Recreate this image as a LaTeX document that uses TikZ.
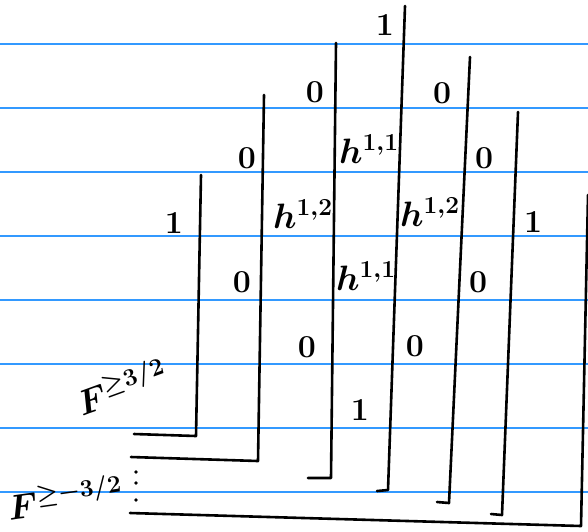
\documentclass[tikz,border=0pt]{standalone}
\usepackage{amsmath}
\usepackage{amssymb}
\usetikzlibrary{calc}

\begin{document}
\begin{tikzpicture}[x=1pt, y=-1pt, line width=2.6pt, line cap=round, line join=round]
  % 定义颜色与样式
  \definecolor{ruleblue}{RGB}{51,153,255}
  \tikzset{
    entry/.style={font=\fontsize{20}{22}\selectfont\bfseries, inner sep=0pt, scale=1.6, transform shape},
    hodge/.style={font=\fontsize{20}{22}\selectfont\boldmath, inner sep=0pt, scale=1.7, transform shape},
    filt/.style={font=\fontsize{20}{22}\selectfont\boldmath, inner sep=0pt, scale=1.7, transform shape}
  }

  % 画布
  \useasboundingbox (0,0) rectangle (588,531);
  \fill[white] (0,0) rectangle (588,531);

  % 横线 (纸上的蓝线)
  \foreach \y in {44,108,...,492}
    \draw[ruleblue, line width=1.4pt, line cap=butt] (0,\y) -- (588,\y);

  % 各层的折线 (顶端 -- 拐角 -- 左端)
  \foreach \tx/\ty/\bx/\by/\ex/\ey in {201/175/196/436/134/434,
                                       264/95/258/461/131/457,
                                       336/43/331/478/308/478,
                                       405/6/388/490/377/491,
                                       470/57/449/503/437/502,
                                       518/112/502/515/491/514,
                                       588/195/581/526/130/513}
    \draw (\tx,\ty) -- (\bx,\by) -- (\ex,\ey);

  % 省略号
  \foreach \d in {472,483,500}
    \fill (136,\d) circle (1.8);

  % Hodge 数
  \node[entry] (oneTop)   at (385,25)  {1};
  \node[entry] (oneLeft)  at (174,223) {1};
  \node[entry] (oneRight) at (533,222) {1};
  \node[entry] (oneBot)   at (360,410) {1};

  \node[entry] (zeroA) at (315,92)  {0};
  \node[entry] (zeroB) at (442,93)  {0};
  \node[entry] (zeroC) at (247,158) {0};
  \node[entry] (zeroD) at (484,158) {0};
  \node[entry] (zeroE) at (242,282) {0};
  \node[entry] (zeroF) at (478,282) {0};
  \node[entry] (zeroG) at (307,347) {0};
  \node[entry] (zeroH) at (415,346) {0};

  \node[hodge] (hUp)    at (369,149) {$h^{1,1}$};
  \node[hodge] (hLeft)  at (303,214) {$h^{1,2}$};
  \node[hodge] (hRight) at (430,212) {$h^{1,2}$};
  \node[hodge] (hDown)  at (366,276) {$h^{1,1}$};

  % 滤链标注
  \node[filt, rotate=20] (Fhigh) at (121,386) {$F^{\geq 3/2}$};
  \node[filt, rotate=8]  (Flow)  at (65,497)  {$F^{\geq -3/2}$};

\end{tikzpicture}
\end{document}
